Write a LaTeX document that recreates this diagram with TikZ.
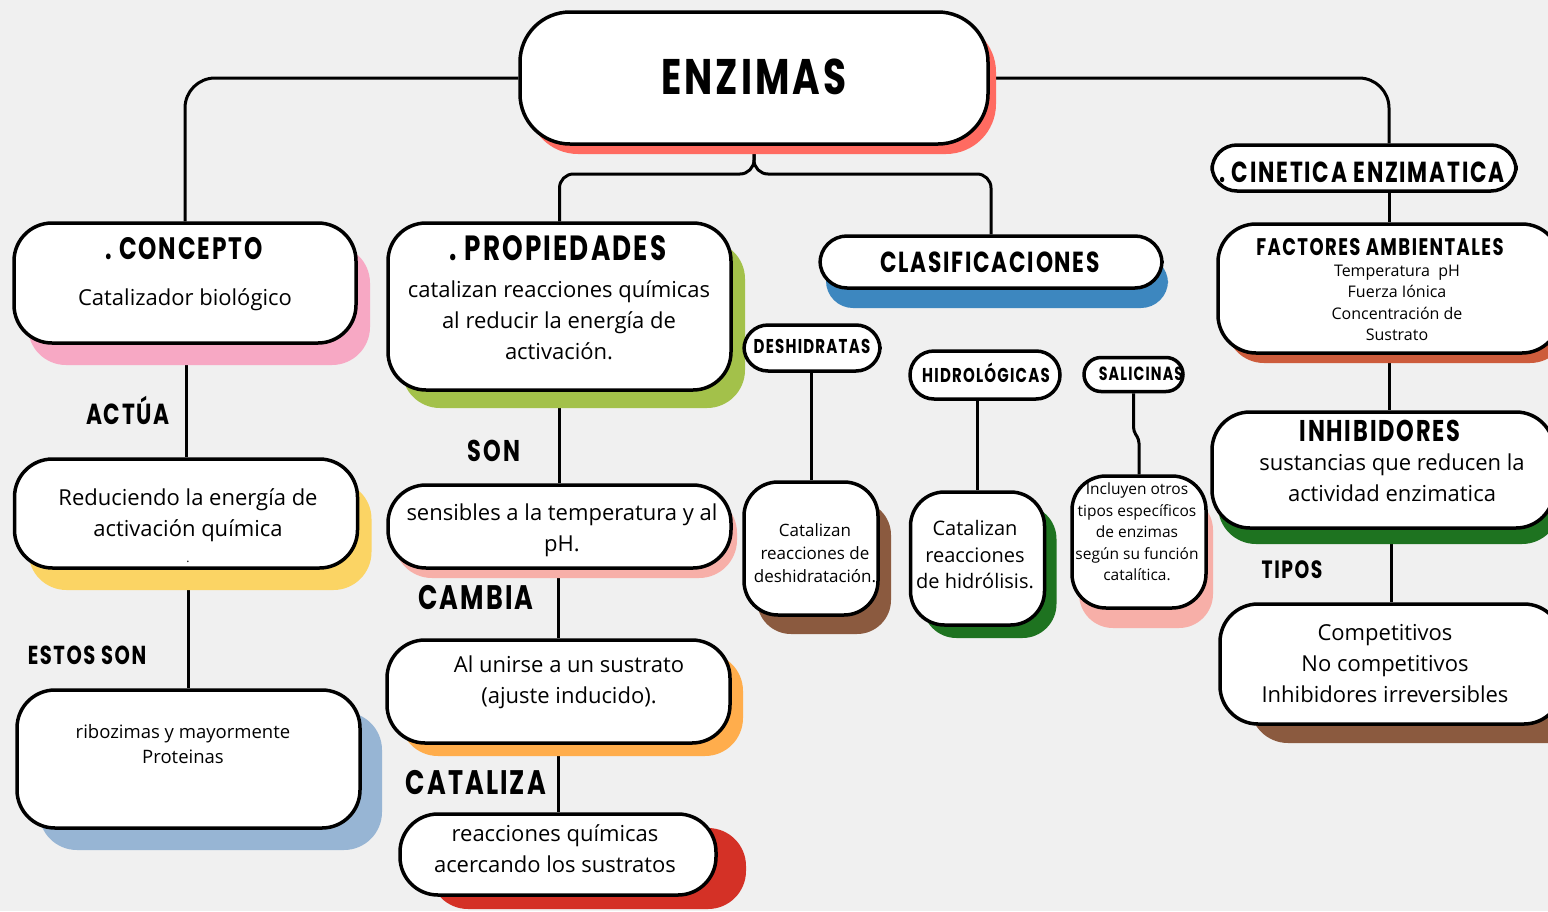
\documentclass[tikz,border=0pt]{standalone}
\usepackage{fontspec}
\setmainfont{Open Sans}
\newfontfamily\hdfont[FakeStretch=0.75,LetterSpace=6]{Poppins}
\usetikzlibrary{shadows}
\pgfdeclarelayer{back}
\pgfsetlayers{back,main}
\definecolor{fondo}{HTML}{F0F0F0}
\definecolor{salmon}{HTML}{FF6B61}
\definecolor{rosa}{HTML}{F7A8C4}
\definecolor{oliva}{HTML}{A3C14A}
\definecolor{azul}{HTML}{3D87BF}
\definecolor{teja}{HTML}{CD5C3C}
\definecolor{verde}{HTML}{1E7320}
\definecolor{marron}{HTML}{8B5A3F}
\definecolor{amarillo}{HTML}{FBD464}
\definecolor{azulgris}{HTML}{97B5D4}
\definecolor{melocoton}{HTML}{F7AFA8}
\definecolor{naranja}{HTML}{FFAD4C}
\definecolor{rojo}{HTML}{D43126}
\begin{document}
\begin{tikzpicture}[x=1pt,y=-1pt, line join=round, line cap=round,
	caja/.style={draw, line width=3.5pt, fill=white, rounded corners=#1},
	caja/.default=38pt,
	sombra/.style n args={3}{drop shadow={shadow xshift=#2pt,shadow yshift=-#3pt,fill=#1,opacity=1}},
	enlace/.style={line width=3pt},
	txt/.style 2 args={font=\fontsize{#1}{#2}\selectfont, align=center, inner sep=0pt},
	tit/.style={font=\hdfont\bfseries\fontsize{#1}{#1}\selectfont, inner sep=0pt}]
	\useasboundingbox (0,0) rectangle (1548,911);
	% cajas
	\node[caja=50pt, sombra={salmon}{8}{10}, minimum width=468, minimum height=132] (enz) at (754,78) {};
	\node[caja=25pt, minimum width=304, minimum height=46] (cin) at (1364,168) {};
	\node[caja, sombra={rosa}{14}{22}, minimum width=342, minimum height=120] (con) at (185,283) {};
	\node[caja, sombra={oliva}{14}{18}, minimum width=343, minimum height=167] (pro) at (559.5,306.5) {};
	\node[caja=27pt, sombra={azul}{6}{20}, minimum width=342, minimum height=52] (cla) at (991,262) {};
	\node[caja, sombra={teja}{8}{10}, minimum width=342, minimum height=129] (fac) at (1389,288.5) {};
	\node[caja, sombra={verde}{6}{16}, minimum width=342, minimum height=116] (inh) at (1383,470) {};
	\node[caja, sombra={marron}{30}{19}, minimum width=342, minimum height=120] (com) at (1391,664) {};
	\node[caja=24pt, minimum width=136, minimum height=46] (des) at (812,348) {};
	\node[caja=24pt, minimum width=150, minimum height=48] (hid) at (985,375) {};
	\node[caja=17pt, minimum width=99, minimum height=34] (sal) at (1133.5,374.5) {};
	\node[caja, sombra={amarillo}{14}{22}, minimum width=343, minimum height=109] (red) at (186,513.5) {};
	\node[caja, sombra={azulgris}{22}{22}, minimum width=343, minimum height=138] (rib) at (188.5,759) {};
	\node[caja, sombra={melocoton}{6}{10}, minimum width=343, minimum height=83] (sen) at (559.5,526.5) {};
	\node[caja, sombra={naranja}{13}{13}, minimum width=343, minimum height=103] (alu) at (558.5,691.5) {};
	\node[caja, sombra={rojo}{30}{14}, minimum width=316, minimum height=81] (rea) at (558,854.5) {};
	\node[caja=34pt, sombra={marron}{13}{19}, minimum width=134, minimum height=133] (cde) at (811,548.5) {};
	\node[caja=34pt, sombra={verde}{12}{13}, minimum width=134, minimum height=133] (chi) at (977.5,558.5) {};
	\node[caja=34pt, sombra={melocoton}{7}{20}, minimum width=134, minimum height=132] (inc) at (1139,542) {};
	% conectores
	\begin{pgfonlayer}{back}
		\fill[fondo] (0,0) rectangle (1548,911);
		\draw[enlace, rounded corners=30pt] (enz.west) -| (con.north);
		\draw[enlace, rounded corners=30pt] (enz.east) -| (cin.north -| fac.north);
		\coordinate (rama) at (0,174);
		\draw[enlace, rounded corners=14pt] (enz.south) |- (rama -| pro.north) -- (pro.north);
		\draw[enlace, rounded corners=14pt] (enz.south) |- (rama -| cla.north) -- (cla.north);
		\foreach \a/\b in {con/red,red/rib,pro/sen,sen/alu,alu/rea,des/cde,hid/chi,inh/com}
			\draw[enlace] (\b.north |- \a.south) -- (\b.north);
		\draw[enlace] (cin.south -| fac.north) -- (fac.north);
		\draw[enlace] (fac.south) -- (fac.south |- inh.north);
		\draw[enlace, rounded corners=4pt] (sal.south) -- ++(0,38) -- ++(5.5,8) -- (inc.north);
	\end{pgfonlayer}
	% titulos
	\node[tit=50] (enzT) at (754,77) {ENZIMAS};
	\node[tit=31] (conH) at (184,249) {.\ CONCEPTO};
	\node[tit=35] (proH) at (558,248) {.\ PROPIEDADES};
	\node[tit=29] (claH) at (990,262) {CLASIFICACIONES};
	\node[tit=29] (cinH) at (1362,172) {.\ CINETICA ENZIMATICA};
	\node[tit=20] (desH) at (812,346) {DESHIDRATAS};
	\node[tit=20] (hidH) at (986,373) {HIDROLÓGICAS};
	\node[tit=19] (salH) at (1141,374) {SALICINAS};
	\node[tit=24] (facH) at (1380,247) {FACTORES AMBIENTALES};
	\node[tit=30] (inhH) at (1380,431) {INHIBIDORES};
	% etiquetas de enlace
	\node[tit=29] (actua) at (128,410) {ACTÚA};
	\node[tit=30] (son) at (494,451) {SON};
	\node[tit=34] (cambia) at (476,598) {CAMBIA};
	\node[tit=34] (cataliza) at (476,783) {CATALIZA};
	\node[tit=26] (estos) at (87,655) {ESTOS SON};
	\node[tit=25] (tipos) at (1292,570) {TIPOS};
	% textos
	\node[txt={22}{31}] (conT) at (185,300) {Catalizador biológico};
	\node[txt={22}{31}] (proT) at (559,320) {catalizan reacciones químicas\\al reducir la energía de\\activación.};
	\node[txt={22}{31}] (redT) at (188,515) {Reduciendo la energía de\\activación química};
	\node[txt={12}{12}] (redP) at (188,562) {.};
	\node[txt={18.5}{24.5}] (ribT) at (183,744) {ribozimas y mayormente\\Proteinas};
	\node[txt={22}{31}] (senT) at (562,530) {sensibles a la temperatura y al\\pH.};
	\node[txt={22}{31}] (aluT) at (569,682) {Al unirse a un sustrato\\(ajuste inducido).};
	\node[txt={22}{31}] (reaT) at (555,849) {reacciones químicas\\acercando los sustratos};
	\node[txt={17}{23}] (cdeT) at (815,553) {Catalizan\\reacciones de\\deshidratación.};
	\node[txt={20}{26.5}] (chiT) at (975,555) {Catalizan\\reacciones\\de hidrólisis.};
	\node[txt={15.5}{21.5}] (incT) at (1137,532) {Incluyen otros\\tipos específicos\\de enzimas\\según su función\\catalítica.};
	\node[txt={16}{21.3}] (facT) at (1397,303) {Temperatura\ \ pH\\Fuerza Iónica\\Concentración de\\Sustrato};
	\node[txt={22}{31}] (inhT) at (1392,478) {sustancias que reducen la\\actividad enzimatica};
	\node[txt={22}{31}] (comT) at (1385,664) {Competitivos\\No competitivos\\Inhibidores irreversibles};
\end{tikzpicture}
\end{document}
